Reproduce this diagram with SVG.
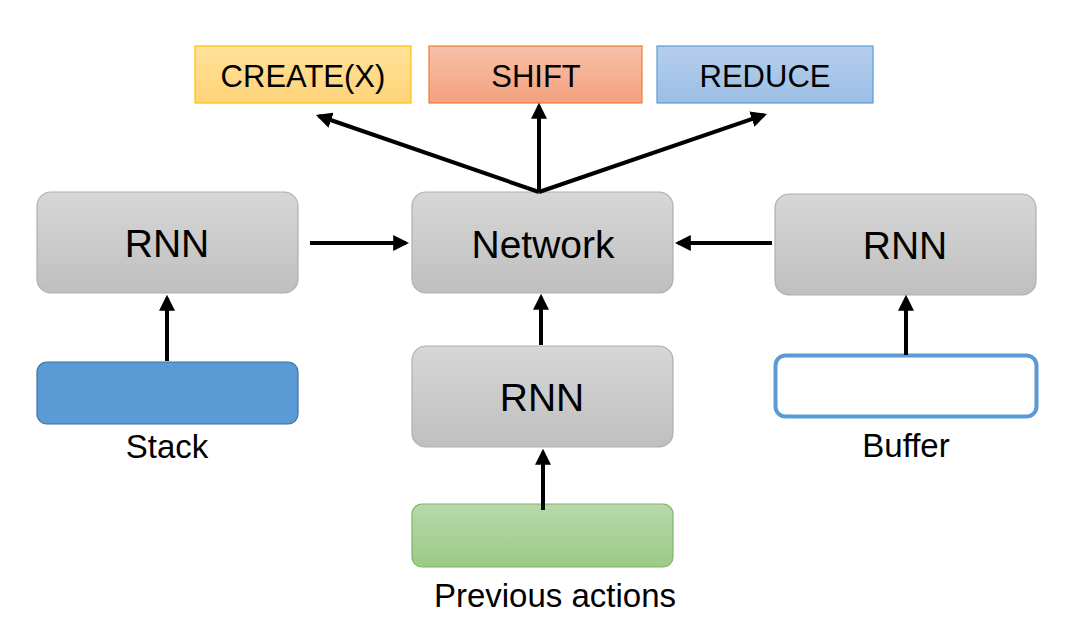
<svg xmlns="http://www.w3.org/2000/svg" width="1074" height="629" viewBox="0 0 1074 629">
<defs>
<linearGradient id="gGray" x1="0" y1="0" x2="0" y2="1"><stop offset="0" stop-color="#D7D7D7"/><stop offset="1" stop-color="#BFBFBF"/></linearGradient>
<linearGradient id="gYellow" x1="0" y1="0" x2="0" y2="1"><stop offset="0" stop-color="#FFE29A"/><stop offset="1" stop-color="#FFD378"/></linearGradient>
<linearGradient id="gOrange" x1="0" y1="0" x2="0" y2="1"><stop offset="0" stop-color="#F7C1A9"/><stop offset="1" stop-color="#F4A17D"/></linearGradient>
<linearGradient id="gBlue" x1="0" y1="0" x2="0" y2="1"><stop offset="0" stop-color="#B6CEEC"/><stop offset="1" stop-color="#9BBFE5"/></linearGradient>
<linearGradient id="gGreen" x1="0" y1="0" x2="0" y2="1"><stop offset="0" stop-color="#B8D9AB"/><stop offset="1" stop-color="#9BCA86"/></linearGradient>
<marker id="ah" markerWidth="4" markerHeight="4" refX="3.2" refY="2" orient="auto" markerUnits="strokeWidth"><path d="M0,0 L4,2 L0,4 Z" fill="#000"/></marker>
</defs>
<style>
text{font-family:"Liberation Sans",Arial,sans-serif;fill:#000;text-anchor:middle}
.gray{fill:url(#gGray);stroke:#AFAFAF;stroke-width:1.2}
.big{font-size:39px}
.act{font-size:31px}
.lbl{font-size:33px}
.conn line{stroke:#000;stroke-width:4;marker-end:url(#ah)}
</style>
<rect width="1074" height="629" fill="#fff"/>
<g id="create"><rect x="195" y="46" width="216" height="57" fill="url(#gYellow)" stroke="#FFC000" stroke-width="1.2"/><text class="act" x="303" y="87">CREATE(X)</text></g>
<g id="shift"><rect x="429" y="46" width="213" height="57" fill="url(#gOrange)" stroke="#ED7D31" stroke-width="1.2"/><text class="act" x="536" y="87">SHIFT</text></g>
<g id="reduce"><rect x="657" y="46" width="216" height="57" fill="url(#gBlue)" stroke="#5B9BD5" stroke-width="1.2"/><text class="act" x="765" y="87">REDUCE</text></g>
<g id="rnnLeft"><rect class="gray" x="37" y="192" width="261" height="101" rx="14"/><text class="big" x="167" y="257">RNN</text></g>
<g id="network"><rect class="gray" x="412" y="192" width="261" height="101" rx="14"/><text class="big" x="543" y="258">Network</text></g>
<g id="rnnRight"><rect class="gray" x="775" y="194" width="261" height="101" rx="14"/><text class="big" x="905" y="259">RNN</text></g>
<g id="rnnMid"><rect class="gray" x="412" y="346" width="261" height="101" rx="14"/><text class="big" x="542" y="411">RNN</text></g>
<g id="stack"><rect x="37" y="362" width="261" height="62" rx="10" fill="#5B9BD5" stroke="#41719C" stroke-width="1.2"/><text class="lbl" x="167" y="458">Stack</text></g>
<g id="buffer"><rect x="775.5" y="355.5" width="261" height="61" rx="10" fill="#fff" stroke="#5B9BD5" stroke-width="4"/><text class="lbl" x="906" y="457">Buffer</text></g>
<g id="prev"><rect x="412" y="504" width="261" height="63" rx="10" fill="url(#gGreen)" stroke="#7FB36A" stroke-width="1.2"/><text class="lbl" x="555" y="607">Previous actions</text></g>
<g id="connectors" class="conn">
<line x1="539" y1="192" x2="319" y2="116"/>
<line x1="539" y1="192" x2="539" y2="106"/>
<line x1="539" y1="192" x2="764" y2="115"/>
<line x1="310" y1="243" x2="406" y2="243"/>
<line x1="772" y1="243" x2="678" y2="243"/>
<line x1="541" y1="345" x2="541" y2="297"/>
<line x1="167" y1="361" x2="167" y2="298"/>
<line x1="906" y1="355" x2="906" y2="298"/>
<line x1="543" y1="510" x2="543" y2="452"/>
</g>
</svg>
